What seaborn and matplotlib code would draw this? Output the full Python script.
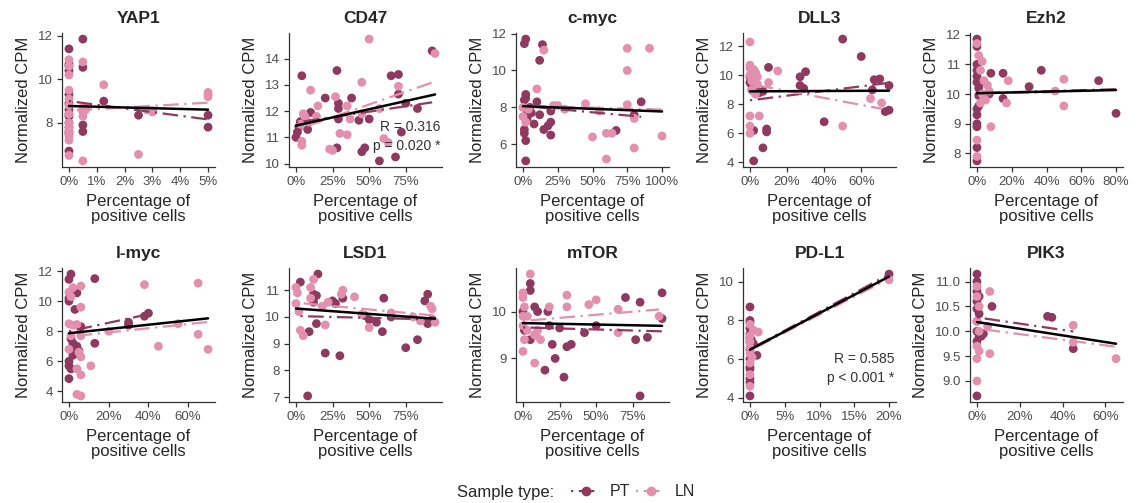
import numpy as np
import pandas as pd
import matplotlib
matplotlib.use("Agg")
import matplotlib.pyplot as plt
from matplotlib.lines import Line2D
from matplotlib.ticker import PercentFormatter, FormatStrFormatter
import seaborn as sns

# ---- data: (percentage of positive cells, normalized CPM) per gene and sample type ----
genes = ["YAP1", "CD47", "c-myc", "DLL3", "Ezh2", "l-myc", "LSD1", "mTOR", "PD-L1", "PIK3"]
sample_types = ["PT", "LN"]

yap1_pt = [(0, 11.4), (0, 10.7), (0, 10.6), (0, 10.4), (0, 9.3), (0, 8.9), (0, 8.6), (0, 8.4),
           (0, 8.3), (0, 8.0), (0, 7.8), (0, 7.6), (0, 7.5), (0, 6.7), (0.5, 11.85),
           (0.5, 10.55), (0.5, 8.6), (0.5, 7.9), (0.5, 7.6), (1.25, 9.0), (2.5, 8.35),
           (3.0, 8.55), (5, 8.35), (5, 7.8)]
yap1_ln = [(0, 10.9), (0, 10.6), (0, 10.2), (0, 9.5), (0, 9.1), (0, 8.8), (0, 8.4), (0, 8.0),
           (0, 7.8), (0, 7.6), (0, 7.4), (0, 7.2), (0, 6.5), (0.5, 10.8), (0.5, 8.7),
           (0.5, 8.5), (0.5, 8.3), (0.5, 6.25), (0.6, 8.7), (0.6, 8.6), (1.25, 9.75),
           (2.5, 6.55), (2.8, 8.6), (3.0, 8.5), (5, 9.4), (5, 9.3), (5, 9.2)]

cd47_pt = [(4, 13.35), (0, 11.0), (1, 11.2), (2, 11.4), (3, 11.6), (8, 11.3), (10, 11.95),
           (20, 12.5), (28, 13.55), (29, 12.3), (29, 12.1), (29, 11.7), (28, 10.6), (38, 12.5),
           (45, 10.45), (47, 10.6), (50, 11.7), (43, 11.65), (57, 10.1), (65, 13.35),
           (70, 13.4), (68, 10.25), (72, 11.2), (70, 12.65), (75, 12.3), (83, 12.1), (93, 14.3)]
cd47_ln = [(50, 14.75), (95, 14.2), (45, 13.1), (70, 12.95), (10, 12.8), (27, 12.55),
           (35, 12.2), (15, 12.2), (5, 11.9), (6, 11.8), (8, 11.6), (3, 11.5), (4, 10.85),
           (4, 10.7), (23, 10.55), (25, 10.5), (30, 11.15), (35, 11.1), (60, 10.95),
           (63, 10.8), (45, 11.9), (57, 12.1), (14, 11.8), (37, 11.7)]

cmyc_pt = [(2, 11.7), (1, 11.45), (14, 11.4), (12, 10.55), (2, 8.7), (2, 8.5), (1, 8.4),
           (5, 8.0), (10, 8.3), (12, 7.6), (8, 7.1), (3, 7.4), (1, 6.8), (1, 6.6), (2, 6.2),
           (2, 5.1), (15, 6.8), (18, 7.0), (20, 7.2), (20, 6.5), (20, 7.8), (85, 8.3),
           (80, 7.6), (67, 6.75), (3, 7.8), (6, 7.7)]
cmyc_ln = [(15, 11.1), (75, 11.2), (91, 11.2), (75, 10.0), (10, 9.0), (75, 8.15), (45, 8.2),
           (25, 8.1), (30, 7.9), (55, 7.8), (80, 7.4), (50, 6.4), (60, 6.6), (64, 6.6),
           (60, 5.2), (80, 5.8), (100, 6.45), (0, 7.5), (0, 8.0), (4, 7.9), (22, 8.1), (2, 7.2)]

dll3_pt = [(0, 9.9), (1, 9.3), (2, 8.9), (3, 9.2), (5, 8.8), (7, 8.9), (10, 10.55),
           (0, 9.5), (1, 9.0), (4, 8.8), (2, 9.6), (30, 10.25), (27, 9.9), (27, 9.3), (29, 9.1),
           (2, 6.2), (9, 6.3), (9, 6.1), (7, 5.0), (2, 4.1), (40, 6.8), (50, 12.5), (60, 11.3),
           (67, 9.7), (70, 9.75), (75, 9.3), (73, 7.5), (75, 7.6), (66, 9.0)]
dll3_ln = [(0, 12.3), (0, 10.7), (2, 10.4), (3, 10.2), (4, 9.9), (1, 9.8), (0, 10.0),
           (0, 10.5), (1, 10.1), (2, 9.7), (2, 9.9), (1, 9.6), (4, 9.4), (0, 7.2), (0, 6.5),
           (0, 6.0), (5, 7.2), (15, 10.3), (10, 9.5), (50, 6.5), (65, 8.4), (71, 8.1),
           (1, 9.0), (3, 8.7)]

ezh2_pt = [(0, 11.85), (0, 11.6), (0, 11.0), (0, 10.8), (0, 10.6), (0, 10.4), (1, 10.2),
           (1, 9.95), (0, 9.5), (0, 9.3), (0, 9.0), (0, 8.9), (0, 8.2), (0, 7.75), (1, 9.6),
           (8, 10.7), (15, 10.7), (15, 9.85), (7, 10.0), (30, 10.25), (37, 10.8), (70, 10.45),
           (80, 9.35), (3, 10.4)]
ezh2_ln = [(0, 11.7), (1, 11.3), (3, 11.1), (2, 10.8), (4, 10.45), (6, 10.3), (3, 10.0),
           (5, 9.8), (4, 9.85), (8, 8.9), (0, 8.45), (0, 7.9), (18, 10.45), (17, 9.7),
           (50, 10.5), (50, 9.6), (45, 10.1), (7, 10.1), (2, 9.7)]

lmyc_pt = [(1, 11.8), (0, 11.45), (0, 10.2), (0, 10.0), (4, 10.55), (3, 9.45), (6, 8.3),
           (1, 7.5), (2, 7.2), (3, 6.9), (4, 7.0), (5, 6.7), (0, 6.0), (0, 5.7), (1, 5.5),
           (0, 4.85), (13, 11.5), (13, 7.2), (30, 8.4), (30, 8.6), (40, 9.2), (38, 9.0), (2, 6.4)]
lmyc_ln = [(0, 10.6), (1, 10.3), (2, 10.9), (6, 11.0), (6, 9.6), (0, 8.5), (2, 8.4), (4, 8.45),
           (6, 7.7), (1, 7.7), (6, 6.3), (5, 6.6), (4, 5.5), (6, 5.1), (11, 5.7), (4, 3.8),
           (6, 3.7), (20, 8.0), (38, 11.1), (45, 7.0), (65, 11.2), (65, 7.8), (70, 6.8),
           (55, 8.5), (0, 6.8)]

lsd1_pt = [(3, 11.3), (15, 11.6), (12, 10.85), (14, 10.8), (12, 10.55), (25, 10.6), (27, 10.5),
           (32, 10.7), (9, 9.45), (14, 9.75), (20, 8.65), (30, 8.55), (8, 7.05), (47, 10.05),
           (50, 9.9), (55, 9.8), (60, 10.7), (59, 9.45), (65, 10.0), (75, 8.85), (83, 9.15),
           (88, 10.6), (90, 10.85), (90, 9.75), (93, 9.9)]
lsd1_ln = [(0, 11.1), (1, 10.9), (0, 10.5), (2, 10.2), (3, 9.5), (5, 9.3), (10, 11.1),
           (12, 11.4), (10, 10.7), (20, 9.7), (22, 10.55), (31, 10.85), (32, 11.0), (40, 10.75),
           (45, 10.1), (50, 9.6), (65, 10.15), (80, 10.0), (85, 9.85), (92, 10.4), (93, 10.3),
           (95, 9.8), (18, 10.4)]

mtor_pt = [(0, 10.0), (1, 9.6), (5, 10.6), (5, 10.45), (8, 10.1), (10, 10.0), (5, 9.4),
           (17, 10.0), (18, 9.7), (20, 9.3), (22, 9.0), (25, 9.65), (15, 8.75), (28, 8.6),
           (30, 9.25), (33, 9.3), (42, 9.55), (50, 9.7), (70, 10.3), (80, 10.2), (77, 9.4),
           (80, 8.2), (85, 9.45), (95, 10.4), (95, 9.85)]
mtor_ln = [(5, 10.8), (0, 10.4), (0, 10.3), (1, 10.1), (0, 9.9), (0, 9.7), (1, 9.4), (0, 9.15),
           (3, 9.6), (8, 9.5), (9, 9.5), (10, 9.6), (12, 9.4), (8, 8.9), (18, 10.1), (30, 10.35),
           (30, 10.1), (45, 10.15), (50, 10.25), (65, 10.05), (65, 9.55), (93, 9.9), (3, 9.9)]

pdl1_pt = [(0, 8.7), (0, 8.0), (0, 7.9), (0, 7.6), (0, 7.3), (0, 7.1), (0, 6.9), (0, 6.5),
           (0, 5.6), (0, 5.5), (0, 5.0), (0, 4.8), (0, 4.1), (1, 6.2), (0.5, 6.8), (20, 10.4),
           (0.2, 7.0), (0, 6.0)]
pdl1_ln = [(0, 7.8), (0.5, 7.5), (1.2, 7.4), (0, 7.2), (0, 6.6), (0, 6.3), (0, 5.8), (0, 5.2),
           (0, 4.6), (20, 10.1), (0, 6.9), (0.3, 6.1)]

pik3_pt = [(0, 11.15), (0, 11.0), (0, 10.8), (1, 10.7), (0, 10.6), (0, 10.45), (1, 10.35),
           (0, 10.2), (0, 10.0), (1, 9.9), (0, 9.8), (2, 9.9), (0, 8.7), (7, 10.5), (33, 10.3),
           (35, 10.28), (45, 9.65), (3, 9.95)]
pik3_ln = [(0, 10.9), (0, 10.7), (1, 10.5), (0, 10.2), (1, 10.0), (0, 9.7), (0, 9.45), (0, 9.0),
           (6, 10.8), (6, 9.55), (45, 10.12), (45, 9.78), (65, 9.45), (1, 9.6), (5, 10.1)]

x_ticks = {"YAP1": [0, 1, 2, 3, 4, 5], "CD47": [0, 25, 50, 75], "c-myc": [0, 25, 50, 75, 100],
           "DLL3": [0, 20, 40, 60], "Ezh2": [0, 20, 40, 60, 80], "l-myc": [0, 20, 40, 60],
           "LSD1": [0, 25, 50, 75], "mTOR": [0, 25, 50, 75], "PD-L1": [0, 5, 10, 15, 20],
           "PIK3": [0, 20, 40, 60]}
y_ticks = {"YAP1": [8, 10, 12], "CD47": [10, 11, 12, 13, 14], "c-myc": [6, 8, 10, 12],
           "DLL3": [4, 6, 8, 10, 12], "Ezh2": [8, 9, 10, 11, 12], "l-myc": [4, 6, 8, 10, 12],
           "LSD1": [7, 8, 9, 10, 11], "mTOR": [9, 10], "PD-L1": [4, 6, 8, 10],
           "PIK3": [9.0, 9.5, 10.0, 10.5, 11.0]}
stats_text = {"CD47": ("R = 0.316", "p = 0.020 *"), "PD-L1": ("R = 0.585", "p < 0.001 *")}

points = {
    "YAP1": (yap1_pt, yap1_ln), "CD47": (cd47_pt, cd47_ln), "c-myc": (cmyc_pt, cmyc_ln),
    "DLL3": (dll3_pt, dll3_ln), "Ezh2": (ezh2_pt, ezh2_ln), "l-myc": (lmyc_pt, lmyc_ln),
    "LSD1": (lsd1_pt, lsd1_ln), "mTOR": (mtor_pt, mtor_ln), "PD-L1": (pdl1_pt, pdl1_ln),
    "PIK3": (pik3_pt, pik3_ln),
}

rows = []
for g, (pt, ln) in points.items():
    for st, pts in zip(sample_types, (pt, ln)):
        for x, y in pts:
            rows.append({"gene": g, "type": st, "pct": x, "cpm": y})
df = pd.DataFrame(rows)

# ---- style ----
sns.set_theme(style="ticks")
plt.rcParams["font.family"] = ["Liberation Sans", "DejaVu Sans"]
palette = {"PT": "#8E3A60", "LN": "#E38FAE"}
dash = (0, (1, 2.5, 7, 2.5))
tick_color = "#4D4D4D"

W, H = 1137, 503
fig = plt.figure(figsize=(W / 100, H / 100), dpi=100)

col_left = [62, 289, 516, 743, 970]
ax_w = 153
row_top = [33, 268]
ax_h = 134

for i, g in enumerate(genes):
    r, c = divmod(i, 5)
    ax = fig.add_axes([col_left[c] / W, 1 - (row_top[r] + ax_h) / H, ax_w / W, ax_h / H])
    sub = df[df["gene"] == g]
    sns.scatterplot(data=sub, x="pct", y="cpm", hue="type", palette=palette,
                    hue_order=sample_types, s=40, linewidth=0, alpha=1, legend=False, ax=ax,
                    zorder=2)
    for st in sample_types:
        sns.regplot(data=sub[sub["type"] == st], x="pct", y="cpm", ci=None, scatter=False,
                    ax=ax, line_kws={"color": palette[st], "lw": 1.6, "linestyle": dash,
                                     "zorder": 3})
    sns.regplot(data=sub, x="pct", y="cpm", ci=None, scatter=False, ax=ax,
                line_kws={"color": "black", "lw": 1.8, "zorder": 4})

    ax.set_title(g, fontsize=12.5, fontweight="bold", pad=7)
    ax.set_xlabel("Percentage of\npositive cells", fontsize=12, labelpad=4, linespacing=1.05)
    ax.set_ylabel("Normalized CPM", fontsize=12, labelpad=5)
    ax.set_xticks(x_ticks[g])
    ax.set_yticks(y_ticks[g])
    ax.xaxis.set_major_formatter(PercentFormatter(xmax=100, decimals=0))
    if g == "PIK3":
        ax.yaxis.set_major_formatter(FormatStrFormatter("%.1f"))
    ax.margins(x=0.05, y=0.05)
    ax.tick_params(labelsize=9.5, labelcolor=tick_color, color="#333333", length=3.5,
                   width=0.9, pad=3)
    for side in ("top", "right"):
        ax.spines[side].set_visible(False)
    for side in ("left", "bottom"):
        ax.spines[side].set_color("#333333")
        ax.spines[side].set_linewidth(0.9)

    if g in stats_text:
        r_txt, p_txt = stats_text[g]
        y0 = 0.30 if g == "CD47" else 0.32
        ax.text(0.99, y0, r_txt, transform=ax.transAxes, ha="right", va="center",
                fontsize=10, color="#333333")
        ax.text(0.99, y0 - 0.14, p_txt, transform=ax.transAxes, ha="right", va="center",
                fontsize=10, color="#333333")

# ---- legend ----
fig.text(457 / W, 1 - 492 / H, "Sample type:", fontsize=12, va="center", ha="left")
handles = [Line2D([], [], color=palette[st], marker="o", markersize=6, lw=1.6, linestyle=dash)
           for st in sample_types]
fig.legend(handles, sample_types, loc="center left", bbox_to_anchor=(565 / W, 1 - 492 / H),
           ncol=2, frameon=False, fontsize=11.5, handlelength=1.8, handletextpad=0.6,
           columnspacing=0.4, borderaxespad=0)

fig.savefig("out.png", dpi=100)
